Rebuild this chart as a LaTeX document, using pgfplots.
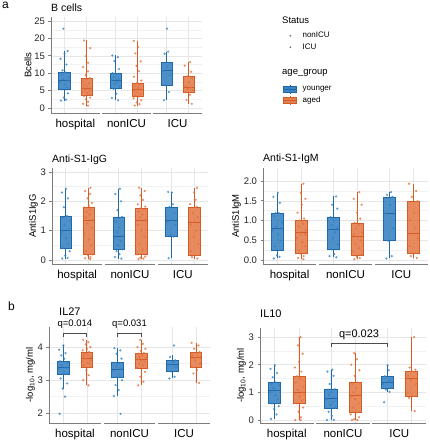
\documentclass[border=0pt]{standalone}
\usepackage{pgfplots}
\pgfplotsset{compat=1.18}
\usepgfplotslibrary{statistics}
\usepackage{fontspec}
\setmainfont{Liberation Sans}
\definecolor{bfill}{RGB}{58,132,196}
\definecolor{bdark}{RGB}{31,105,170}
\definecolor{ofill}{RGB}{228,126,78}
\definecolor{odark}{RGB}{210,92,38}
\definecolor{bpt}{RGB}{50,130,195}
\definecolor{opt}{RGB}{228,112,60}
\definecolor{axgray}{RGB}{125,125,125}
\definecolor{gridc}{RGB}{230,230,230}
\definecolor{gridm}{RGB}{242,242,242}

\newcommand{\bx}[7]{\addplot[#2, boxplot prepared={draw direction=y, draw position=#1, lower whisker=#3, lower quartile=#4, median=#5, upper quartile=#6, upper whisker=#7, box extend=0.5, whisker extend=0}] coordinates {};}
\newcommand{\facetlines}{\draw[axgray, line width=0.8pt] (rel axis cs:0,0) -- (rel axis cs:0.3226,0) (rel axis cs:0.3387,0) -- (rel axis cs:0.6613,0) (rel axis cs:0.6774,0) -- (rel axis cs:1,0);}

\pgfplotsset{
  bbox/.style={draw=bdark, fill=bfill, fill opacity=0.9, line width=0.6pt},
  obox/.style={draw=odark, fill=ofill, fill opacity=0.9, line width=0.6pt},
  pts/.style={scatter, only marks, mark=*, mark size=0.95pt, point meta=explicit symbolic,
    fill opacity=0.65, draw opacity=0.65,
    scatter/classes={0={mark=*,bpt},1={mark=*,opt},2={mark=*,bpt},3={mark=*,opt},4={mark=*,bpt},5={mark=*,opt}}},
  facet/.style={
    scale only axis, xmin=0, xmax=6.82, clip=false,
    axis x line*=bottom, axis y line*=left,
    x axis line style={draw=none},
    y axis line style={draw=axgray, line width=0.7pt},
    xtick={1.1,3.41,5.72}, xticklabels={hospital,nonICU,ICU},
    xtick style={draw=none},
    x tick label style={font=\fontsize{11.5}{12}\selectfont, text=black},
    extra x ticks={0.6,1.6,2.91,3.91,5.22,6.22}, extra x tick labels={},
    extra x tick style={grid=major, xtick style={draw=none}},
    ymajorgrids, yminorgrids, minor y tick num=1,
    major grid style={gridc, line width=0.5pt},
    minor grid style={gridm, line width=0.4pt},
    ytick style={draw=axgray, line width=0.6pt},
    tick align=outside, major tick length=2.5pt, minor tick length=0pt,
    y tick label style={font=\fontsize{9.5}{10}\selectfont, text=black!85},
    /pgf/number format/assume math mode=true,
    ylabel style={font=\fontsize{9.5}{10}\selectfont}, ylabel shift=-4pt,
    title style={font=\fontsize{10.5}{12}\selectfont, at={(0,1)}, anchor=base west, inner sep=0pt},
  },
  leg/.style={hide axis, scale only axis, width=10pt, height=10pt, xmin=0, xmax=1, ymin=0, ymax=1, anchor=north west,
    legend style={at={(0,1)}, anchor=north west, draw=none, fill=none, inner sep=0pt,
    font=\fontsize{8}{9}\selectfont, row sep=0.5pt, legend cell align=left}},
}

\begin{document}
\begin{tikzpicture}
\useasboundingbox (0,0) rectangle (430pt,440pt);

\node[anchor=north west, inner sep=0pt, font=\fontsize{12}{14}\selectfont] at (2pt,438pt) {a};
\node[anchor=north west, inner sep=0pt, font=\fontsize{12}{14}\selectfont] at (8pt,138pt) {b};

% ---------------- B cells ----------------
\begin{axis}[facet, at={(51pt,327pt)}, anchor=south west, width=151pt, height=96pt,
  ymin=-1.44, ymax=26.15, ytick={0,5,10,15,20,25}, ylabel={Bcells}, title={B cells}]
\bx{0.6}{bbox}{2.1}{5.4}{8.1}{10.3}{16.4}
\bx{1.6}{obox}{0.7}{3.6}{5.7}{8.5}{19.4}
\bx{2.91}{bbox}{2.2}{5.6}{8.1}{10.0}{15.1}
\bx{3.91}{obox}{0.7}{3.5}{5.4}{7.2}{19.3}
\bx{5.22}{bbox}{2.2}{6.6}{10.7}{13.0}{16.2}
\bx{6.22}{obox}{1.2}{4.5}{5.9}{9.1}{13.2}
\addplot[pts] table[row sep=\\, x expr={floor(\thisrow{b}/2)*2.31+0.6+mod(\thisrow{b},2)+\thisrow{j}}, y=y, meta=b] {
b j y\\
0 -.15 2.1\\ 0 .08 2.4\\ 0 -.02 3.0\\ 0 .17 4.2\\ 0 -.11 5.4\\ 0 .12 5.9\\ 0 .03 6.8\\ 0 -.19 7.5\\ 0 .14 8.0\\ 0 -.06 8.3\\ 0 .19 8.9\\ 0 -.13 9.6\\ 0 .05 10.2\\ 0 -.08 10.8\\ 0 .10 12.5\\ 0 -.17 14.1\\ 0 .01 15.6\\ 0 .15 16.4\\ 0 -.04 22.8\\
1 .07 0.7\\ 1 -.15 1.2\\ 1 .08 1.8\\ 1 -.02 2.5\\ 1 .17 3.0\\ 1 -.11 3.5\\ 1 .12 3.8\\ 1 .03 4.3\\ 1 -.19 4.7\\ 1 .14 5.0\\ 1 -.06 5.3\\ 1 .19 5.6\\ 1 -.13 5.8\\ 1 .05 6.2\\ 1 -.08 6.7\\ 1 .10 7.1\\ 1 -.17 7.6\\ 1 .01 8.2\\ 1 .15 8.6\\ 1 -.04 9.4\\ 1 .07 10.5\\ 1 -.15 11.8\\ 1 .08 13.0\\ 1 -.02 14.9\\ 1 .17 17.2\\ 1 -.11 19.4\\
2 .12 2.2\\ 2 -.16 2.9\\ 2 .04 4.1\\ 2 -.09 5.5\\ 2 .18 6.2\\ 2 -.03 7.0\\ 2 .09 7.6\\ 2 -.18 8.0\\ 2 .14 8.3\\ 2 -.07 8.9\\ 2 .02 9.7\\ 2 -.12 10.0\\ 2 .16 11.2\\ 2 -.05 13.5\\ 2 .11 14.6\\ 2 -.14 15.1\\
3 -.13 0.7\\ 3 .09 1.1\\ 3 -.04 1.6\\ 3 .16 2.2\\ 3 -.18 2.8\\ 3 .06 3.3\\ 3 -.09 3.6\\ 3 .13 4.0\\ 3 .00 4.5\\ 3 -.15 4.9\\ 3 .19 5.2\\ 3 -.07 5.5\\ 3 .04 5.9\\ 3 -.12 6.3\\ 3 .11 6.8\\ 3 -.02 7.2\\ 3 .17 7.9\\ 3 -.16 9.0\\ 3 .07 10.6\\ 3 -.05 12.1\\ 3 .14 13.4\\ 3 -.10 15.7\\ 3 .02 17.5\\ 3 -.17 19.3\\
4 -.12 2.2\\ 4 .10 4.6\\ 4 -.05 6.6\\ 4 .16 9.5\\ 4 -.17 10.7\\ 4 .04 11.8\\ 4 .13 13.0\\ 4 -.09 15.6\\ 4 .07 16.2\\ 4 .02 22.8\\
5 .14 1.2\\ 5 -.10 2.3\\ 5 .05 3.8\\ 5 -.16 4.5\\ 5 .18 5.1\\ 5 -.03 5.5\\ 5 .09 5.9\\ 5 -.14 6.2\\ 5 .02 7.4\\ 5 .16 8.6\\ 5 -.07 9.1\\ 5 .11 10.4\\ 5 -.18 12.2\\ 5 .06 13.2\\
};
\facetlines
\end{axis}

% ---------------- Anti-S1-IgG ----------------
\begin{axis}[facet, at={(52pt,176pt)}, anchor=south west, width=156pt, height=96pt,
  ymin=-0.136, ymax=3.136, ytick={0,1,2,3}, ylabel={AntiS1IgG}, title={Anti-S1-IgG}]
\bx{0.6}{bbox}{0.05}{0.4}{1.02}{1.5}{2.43}
\bx{1.6}{obox}{0.03}{0.19}{1.36}{1.79}{2.46}
\bx{2.91}{bbox}{0.05}{0.36}{0.82}{1.47}{2.43}
\bx{3.91}{obox}{0.03}{0.19}{1.36}{1.76}{2.46}
\bx{5.22}{bbox}{0.06}{0.82}{1.36}{1.81}{2.32}
\bx{6.22}{obox}{0.05}{0.17}{1.3}{1.81}{2.46}
\addplot[pts] table[row sep=\\, x expr={floor(\thisrow{b}/2)*2.31+0.6+mod(\thisrow{b},2)+\thisrow{j}}, y=y, meta=b] {
b j y\\
0 -.15 0.05\\ 0 .08 0.07\\ 0 -.02 0.15\\ 0 .17 0.3\\ 0 -.11 0.4\\ 0 .12 0.55\\ 0 .03 0.75\\ 0 -.19 0.9\\ 0 .14 1.02\\ 0 -.06 1.2\\ 0 .19 1.35\\ 0 -.13 1.45\\ 0 .05 1.5\\ 0 -.08 1.8\\ 0 .10 2.1\\ 0 -.17 2.3\\ 0 .01 2.43\\
1 .07 0.03\\ 1 -.15 0.06\\ 1 .08 0.1\\ 1 -.02 0.15\\ 1 .17 0.19\\ 1 -.11 0.3\\ 1 .12 0.5\\ 1 .03 0.7\\ 1 -.19 0.9\\ 1 .14 1.1\\ 1 -.06 1.25\\ 1 .19 1.36\\ 1 -.13 1.45\\ 1 .05 1.55\\ 1 -.08 1.65\\ 1 .10 1.72\\ 1 -.17 1.79\\ 1 .01 1.85\\ 1 .15 1.95\\ 1 -.04 2.1\\ 1 .07 2.25\\ 1 -.15 2.35\\ 1 .08 2.46\\
2 .12 0.05\\ 2 -.16 0.1\\ 2 .04 0.2\\ 2 -.09 0.3\\ 2 .18 0.36\\ 2 -.03 0.5\\ 2 .09 0.65\\ 2 -.18 0.75\\ 2 .14 0.82\\ 2 -.07 0.95\\ 2 .02 1.1\\ 2 -.12 1.3\\ 2 .16 1.47\\ 2 -.05 1.7\\ 2 .11 2.0\\ 2 -.14 2.25\\ 2 .06 2.43\\
3 -.13 0.03\\ 3 .09 0.05\\ 3 -.04 0.08\\ 3 .16 0.12\\ 3 -.18 0.19\\ 3 .06 0.35\\ 3 -.09 0.55\\ 3 .13 0.8\\ 3 .00 1.0\\ 3 -.15 1.2\\ 3 .19 1.36\\ 3 -.07 1.45\\ 3 .04 1.55\\ 3 -.12 1.65\\ 3 .11 1.72\\ 3 -.02 1.76\\ 3 .17 1.82\\ 3 -.16 1.9\\ 3 .07 2.05\\ 3 -.05 2.2\\ 3 .14 2.35\\ 3 -.10 2.46\\
4 -.12 0.06\\ 4 .10 0.8\\ 4 -.05 0.85\\ 4 .16 1.2\\ 4 -.17 1.3\\ 4 .04 1.36\\ 4 .13 1.6\\ 4 -.09 1.81\\ 4 .07 1.9\\ 4 .02 2.3\\ 4 -.14 2.32\\
5 .14 0.05\\ 5 -.10 0.1\\ 5 .05 0.17\\ 5 -.16 0.3\\ 5 .18 0.55\\ 5 -.03 0.8\\ 5 .09 1.0\\ 5 -.14 1.2\\ 5 .02 1.3\\ 5 .16 1.45\\ 5 -.07 1.6\\ 5 .11 1.81\\ 5 -.18 1.9\\ 5 .06 2.05\\ 5 -.01 2.3\\ 5 .12 2.46\\
};
\facetlines
\end{axis}

% ---------------- Anti-S1-IgM ----------------
\begin{axis}[facet, at={(263pt,176pt)}, anchor=south west, width=165pt, height=96pt,
  ymin=-0.10, ymax=2.33, ytick={0,0.5,1,1.5,2}, ylabel={AntiS1IgM}, title={Anti-S1-IgM},
  yticklabel style={/pgf/number format/fixed, /pgf/number format/fixed zerofill, /pgf/number format/precision=1}]
\bx{0.6}{bbox}{0.04}{0.25}{0.8}{1.19}{1.7}
\bx{1.6}{obox}{0.02}{0.17}{0.69}{1.01}{1.93}
\bx{2.91}{bbox}{0.07}{0.27}{0.77}{1.09}{1.61}
\bx{3.91}{obox}{0.02}{0.13}{0.59}{0.94}{1.72}
\bx{5.22}{bbox}{0.04}{0.49}{1.18}{1.6}{1.72}
\bx{6.22}{obox}{0.05}{0.17}{0.67}{1.49}{1.93}
\addplot[pts] table[row sep=\\, x expr={floor(\thisrow{b}/2)*2.31+0.6+mod(\thisrow{b},2)+\thisrow{j}}, y=y, meta=b] {
b j y\\
0 -.15 0.04\\ 0 .08 0.08\\ 0 -.02 0.12\\ 0 .17 0.25\\ 0 -.11 0.35\\ 0 .12 0.5\\ 0 .03 0.65\\ 0 -.19 0.75\\ 0 .14 0.8\\ 0 -.06 0.85\\ 0 .19 0.95\\ 0 -.13 1.1\\ 0 .05 1.19\\ 0 -.08 1.19\\ 0 .10 1.45\\ 0 -.17 1.6\\ 0 .01 1.7\\
1 .07 0.02\\ 1 -.15 0.05\\ 1 .08 0.1\\ 1 -.02 0.15\\ 1 .17 0.17\\ 1 -.11 0.25\\ 1 .12 0.35\\ 1 .03 0.45\\ 1 -.19 0.55\\ 1 .14 0.65\\ 1 -.06 0.69\\ 1 .19 0.75\\ 1 -.13 0.85\\ 1 .05 0.92\\ 1 -.08 1.0\\ 1 .10 1.05\\ 1 -.17 1.2\\ 1 .01 1.4\\ 1 .15 1.55\\ 1 -.04 1.7\\ 1 .07 1.93\\
2 .12 0.07\\ 2 -.16 0.1\\ 2 .04 0.15\\ 2 -.09 0.27\\ 2 .18 0.4\\ 2 -.03 0.55\\ 2 .09 0.7\\ 2 -.18 0.77\\ 2 .14 0.8\\ 2 -.07 0.88\\ 2 .02 1.0\\ 2 -.12 1.09\\ 2 .16 1.3\\ 2 -.05 1.4\\ 2 .11 1.61\\
3 -.13 0.02\\ 3 .09 0.05\\ 3 -.04 0.08\\ 3 .16 0.13\\ 3 -.18 0.2\\ 3 .06 0.3\\ 3 -.09 0.4\\ 3 .13 0.5\\ 3 .00 0.59\\ 3 -.15 0.65\\ 3 .19 0.7\\ 3 -.07 0.8\\ 3 .04 0.88\\ 3 -.12 0.94\\ 3 .11 1.05\\ 3 -.02 1.2\\ 3 .17 1.4\\ 3 -.16 1.55\\ 3 .07 1.72\\
4 -.12 0.04\\ 4 .10 0.1\\ 4 -.05 0.49\\ 4 .16 0.8\\ 4 -.17 1.18\\ 4 .04 1.4\\ 4 .13 1.6\\ 4 -.09 1.65\\ 4 .07 1.72\\
5 .14 0.05\\ 5 -.10 0.1\\ 5 .05 0.17\\ 5 -.16 0.35\\ 5 .18 0.55\\ 5 -.03 0.67\\ 5 .09 0.8\\ 5 -.14 1.0\\ 5 .02 1.2\\ 5 .16 1.49\\ 5 -.07 1.6\\ 5 .11 1.75\\ 5 -.18 1.93\\
};
\facetlines
\end{axis}

% ---------------- IL27 ----------------
\begin{axis}[facet, at={(49pt,17pt)}, anchor=south west, width=161pt, height=96pt,
  ymin=1.70, ymax=4.61, ytick={2,3,4}, ylabel={-log\textsubscript{10}, mg/ml}, title={IL27},
  title style={font=\fontsize{11}{12}\selectfont, xshift=10pt, yshift=6pt}]
\bx{0.6}{bbox}{2.74}{3.19}{3.39}{3.57}{4.05}
\bx{1.6}{obox}{2.84}{3.39}{3.65}{3.85}{4.22}
\bx{2.91}{bbox}{2.52}{3.09}{3.34}{3.53}{3.97}
\bx{3.91}{obox}{2.84}{3.37}{3.63}{3.82}{4.22}
\bx{5.22}{bbox}{3.05}{3.26}{3.47}{3.6}{3.77}
\bx{6.22}{obox}{2.91}{3.39}{3.7}{3.85}{4.13}
\addplot[pts] table[row sep=\\, x expr={floor(\thisrow{b}/2)*2.31+0.6+mod(\thisrow{b},2)+\thisrow{j}}, y=y, meta=b] {
b j y\\
0 -.15 1.98\\ 0 .08 2.5\\ 0 -.02 2.74\\ 0 .17 2.9\\ 0 -.11 3.05\\ 0 .12 3.19\\ 0 .03 3.25\\ 0 -.19 3.33\\ 0 .14 3.39\\ 0 -.06 3.45\\ 0 .19 3.52\\ 0 -.13 3.57\\ 0 .05 3.65\\ 0 -.08 3.75\\ 0 .10 3.82\\ 0 -.17 3.92\\ 0 .01 4.05\\
1 .07 2.84\\ 1 -.15 3.0\\ 1 .08 3.15\\ 1 -.02 3.3\\ 1 .17 3.39\\ 1 -.11 3.45\\ 1 .12 3.5\\ 1 .03 3.52\\ 1 -.19 3.58\\ 1 .14 3.6\\ 1 -.06 3.65\\ 1 .19 3.7\\ 1 -.13 3.72\\ 1 .05 3.75\\ 1 -.08 3.8\\ 1 .10 3.85\\ 1 -.17 3.9\\ 1 .01 3.95\\ 1 .15 4.0\\ 1 -.04 4.08\\ 1 .07 4.15\\ 1 -.15 4.22\\
2 .12 1.98\\ 2 -.16 2.52\\ 2 .04 2.7\\ 2 -.09 2.85\\ 2 .18 3.0\\ 2 -.03 3.09\\ 2 .09 3.18\\ 2 -.18 3.28\\ 2 .14 3.34\\ 2 -.07 3.42\\ 2 .02 3.5\\ 2 -.12 3.53\\ 2 .16 3.65\\ 2 -.05 3.8\\ 2 .11 3.9\\ 2 -.14 3.97\\
3 -.13 2.84\\ 3 .09 2.95\\ 3 -.04 3.1\\ 3 .16 3.25\\ 3 -.18 3.37\\ 3 .06 3.45\\ 3 -.09 3.5\\ 3 .13 3.56\\ 3 .00 3.6\\ 3 -.15 3.63\\ 3 .19 3.68\\ 3 -.07 3.7\\ 3 .04 3.75\\ 3 -.12 3.8\\ 3 .11 3.82\\ 3 -.02 3.88\\ 3 .17 3.95\\ 3 -.16 4.0\\ 3 .07 4.1\\ 3 -.05 4.22\\
4 -.12 3.05\\ 4 .10 3.1\\ 4 -.05 3.26\\ 4 .16 3.4\\ 4 -.17 3.47\\ 4 .04 3.55\\ 4 .13 3.6\\ 4 -.09 3.7\\ 4 .07 4.05\\
5 .14 2.91\\ 5 -.10 3.2\\ 5 .05 3.3\\ 5 -.16 3.39\\ 5 .18 3.5\\ 5 -.03 3.6\\ 5 .09 3.7\\ 5 -.14 3.75\\ 5 .02 3.82\\ 5 .16 3.85\\ 5 -.07 3.95\\ 5 .11 4.05\\ 5 -.18 4.13\\
};
\facetlines
\draw[black!70, line width=0.6pt] (axis cs:0.6,4.30) -- (axis cs:0.6,4.42) -- (axis cs:1.6,4.42) -- (axis cs:1.6,4.30);
\draw[black!70, line width=0.6pt] (axis cs:2.91,4.30) -- (axis cs:2.91,4.42) -- (axis cs:3.91,4.42) -- (axis cs:3.91,4.30);
\node[font=\fontsize{9.5}{10}\selectfont] at (axis cs:1.1,4.70) {q=0.014};
\node[font=\fontsize{9.5}{10}\selectfont] at (axis cs:3.41,4.70) {q=0.031};
\end{axis}

% ---------------- IL10 ----------------
\begin{axis}[facet, at={(260pt,17pt)}, anchor=south west, width=166pt, height=95pt,
  ymin=-0.11, ymax=3.33, ytick={0,1,2,3}, ylabel={-log\textsubscript{10}, mg/ml}, title={IL10},
  title style={font=\fontsize{11}{12}\selectfont, yshift=4pt}]
\bx{0.6}{bbox}{0.04}{0.6}{1.08}{1.36}{1.98}
\bx{1.6}{obox}{0.0}{0.6}{1.0}{1.58}{3.0}
\bx{2.91}{bbox}{0.0}{0.44}{0.8}{1.12}{1.82}
\bx{3.91}{obox}{0.0}{0.28}{0.9}{1.36}{2.42}
\bx{5.22}{bbox}{1.02}{1.16}{1.38}{1.58}{1.98}
\bx{6.22}{obox}{0.32}{0.86}{1.5}{1.76}{3.0}
\addplot[pts] table[row sep=\\, x expr={floor(\thisrow{b}/2)*2.31+0.6+mod(\thisrow{b},2)+\thisrow{j}}, y=y, meta=b] {
b j y\\
0 -.15 0.04\\ 0 .08 0.2\\ 0 -.02 0.4\\ 0 .17 0.5\\ 0 -.11 0.6\\ 0 .12 0.75\\ 0 .03 0.9\\ 0 -.19 1.0\\ 0 .14 1.08\\ 0 -.06 1.15\\ 0 .19 1.25\\ 0 -.13 1.3\\ 0 .05 1.36\\ 0 -.08 1.55\\ 0 .10 1.7\\ 0 -.17 1.85\\ 0 .01 1.98\\
1 .07 0.0\\ 1 -.15 0.0\\ 1 .08 0.1\\ 1 -.02 0.3\\ 1 .17 0.45\\ 1 -.11 0.6\\ 1 .12 0.7\\ 1 .03 0.85\\ 1 -.19 0.95\\ 1 .14 1.0\\ 1 -.06 1.1\\ 1 .19 1.2\\ 1 -.13 1.35\\ 1 .05 1.5\\ 1 -.08 1.58\\ 1 .10 1.75\\ 1 -.17 1.9\\ 1 .01 2.1\\ 1 .15 2.4\\ 1 -.04 2.7\\ 1 .07 3.0\\
2 .12 0.0\\ 2 -.16 0.0\\ 2 .04 0.15\\ 2 -.09 0.3\\ 2 .18 0.44\\ 2 -.03 0.55\\ 2 .09 0.65\\ 2 -.18 0.75\\ 2 .14 0.8\\ 2 -.07 0.9\\ 2 .02 1.0\\ 2 -.12 1.1\\ 2 .16 1.12\\ 2 -.05 1.3\\ 2 .11 1.6\\ 2 -.14 1.75\\ 2 .06 1.82\\
3 -.13 0.0\\ 3 .09 0.0\\ 3 -.04 0.02\\ 3 .16 0.1\\ 3 -.18 0.2\\ 3 .06 0.28\\ 3 -.09 0.45\\ 3 .13 0.6\\ 3 .00 0.75\\ 3 -.15 0.85\\ 3 .19 0.9\\ 3 -.07 1.0\\ 3 .04 1.15\\ 3 -.12 1.3\\ 3 .11 1.36\\ 3 -.02 1.6\\ 3 .17 1.8\\ 3 -.16 2.0\\ 3 .07 2.2\\ 3 -.05 2.42\\
4 -.12 0.64\\ 4 .10 1.02\\ 4 -.05 1.1\\ 4 .16 1.16\\ 4 -.17 1.3\\ 4 .04 1.38\\ 4 .13 1.45\\ 4 -.09 1.58\\ 4 .07 1.8\\ 4 .02 1.98\\
5 .14 0.32\\ 5 -.10 0.8\\ 5 .05 0.86\\ 5 -.16 1.0\\ 5 .18 1.3\\ 5 -.03 1.45\\ 5 .09 1.5\\ 5 -.14 1.6\\ 5 .02 1.76\\ 5 .16 1.82\\ 5 -.07 1.9\\ 5 .11 3.0\\
};
\facetlines
\draw[black!70, line width=0.6pt] (axis cs:2.91,2.64) -- (axis cs:2.91,2.78) -- (axis cs:5.22,2.78) -- (axis cs:5.22,2.64);
\node[font=\fontsize{11}{12}\selectfont] at (axis cs:4.07,3.07) {q=0.023};
\end{axis}

% ---------------- legends ----------------
\node[anchor=west, inner sep=0pt, font=\fontsize{9.5}{11}\selectfont] at (282pt,420pt) {Status};
\node[anchor=west, inner sep=0pt, font=\fontsize{9.5}{11}\selectfont] at (282pt,367pt) {age\_group};
\begin{axis}[leg, at={(283pt,410pt)}]
\addlegendimage{legend image code/.code={\path (0pt,-4pt) (17pt,4pt); \fill[gray] (7pt,0pt) circle (0.7pt);}}
\addlegendentry{nonICU}
\addlegendimage{legend image code/.code={\path (0pt,-4pt) (17pt,4pt); \fill[gray] (7pt,0pt) circle (0.7pt);}}
\addlegendentry{ICU}
\end{axis}
\begin{axis}[leg, at={(283pt,356pt)}]
\addlegendimage{legend image code/.code={\path (0pt,-4.5pt) (17pt,4.5pt); \draw[bdark, line width=0.6pt] (6.5pt,-4.5pt) -- (6.5pt,4.5pt); \filldraw[draw=bdark, fill=bfill, line width=0.6pt] (0pt,-3pt) rectangle (13pt,3pt); \draw[bdark, line width=0.6pt] (0pt,0pt) -- (13pt,0pt);}}
\addlegendentry{younger}
\addlegendimage{legend image code/.code={\path (0pt,-4.5pt) (17pt,4.5pt); \draw[odark, line width=0.6pt] (6.5pt,-4.5pt) -- (6.5pt,4.5pt); \filldraw[draw=odark, fill=ofill, line width=0.6pt] (0pt,-3pt) rectangle (13pt,3pt); \draw[odark, line width=0.6pt] (0pt,0pt) -- (13pt,0pt);}}
\addlegendentry{aged}
\end{axis}
\end{tikzpicture}
\end{document}
